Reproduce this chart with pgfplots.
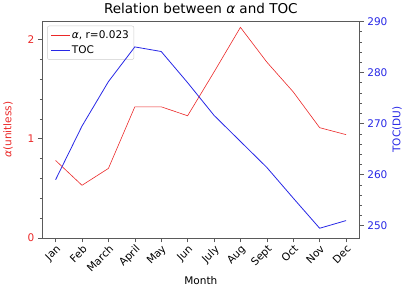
\documentclass[border=0pt]{standalone}
\usepackage{pgfplots}
\pgfplotsset{compat=1.18}
\usepackage{fontspec}
\setmainfont{DejaVu Sans}
\definecolor{mred}{RGB}{235,40,40}
\definecolor{mblue}{RGB}{40,40,230}
\definecolor{spine}{RGB}{90,90,90}
\begin{document}
\begin{tikzpicture}
\pgfplotsset{every axis/.append style={
  width=316pt, height=216pt, scale only axis,
  xmin=-0.5, xmax=11.5,
  tick align=outside,
  /pgf/number format/assume math mode=true,
  tick label style={font=\fontsize{10.5}{12}\selectfont},
  label style={font=\fontsize{10.5}{12}\selectfont},
  axis line style={spine},
  major tick length=4.5pt, minor tick length=2.5pt,
  every tick/.style={spine},
}}
\begin{axis}[
  ymin=0, ymax=2.18,
  xtick={0,...,11},
  xticklabels={Jan,Feb,March,April,May,Jun,July,Aug,Sept,Oct,Nov,Dec},
  xticklabel style={rotate=45, anchor=north east, inner sep=1pt},
  xtick pos=bottom,
  ytick={0,1,2},
  minor ytick={0.2,0.4,0.6,0.8,1.2,1.4,1.6,1.8,2.0},
  ytick pos=left,
  yticklabel style={mred},
  ylabel={\textcolor{mred}{\itshape α\upshape(unitless)}},
  ylabel style={yshift=8pt},
  xlabel={Month},
  xlabel style={yshift=1pt},
  title={Relation between {\itshape α} and TOC},
  title style={font=\fontsize{13.5}{15}\selectfont, yshift=-2pt},
  legend style={font=\fontsize{10.5}{12}\selectfont, draw=gray!40, fill=white, rounded corners=2pt,
    at={(0.015,0.98)}, anchor=north west, row sep=1pt, inner sep=3pt},
  legend cell align=left,
  legend image post style={xscale=1.1},
]
\addplot[mred, line width=0.6pt] coordinates {
(0,0.78) (1,0.53) (2,0.70) (3,1.32) (4,1.32) (5,1.23)
(6,1.67) (7,2.12) (8,1.77) (9,1.47) (10,1.11) (11,1.04)};
\addlegendentry{{\itshape α}, r=0.023}
\addlegendimage{mblue, line width=0.8pt}
\addlegendentry{TOC}
\end{axis}
\begin{axis}[
  ymin=247.6, ymax=290,
  axis x line=none,
  axis y line*=right,
  ytick={250,260,270,280,290},
  minor ytick={252,254,256,258,262,264,266,268,272,274,276,278,282,284,286,288},
  yticklabel style={mblue},
  ylabel={\textcolor{mblue}{TOC(DU)}},
  ylabel style={yshift=2pt},
]
\addplot[mblue, line width=0.8pt] coordinates {
(0,259.0) (1,269.5) (2,278.2) (3,285.0) (4,284.1) (5,278.0)
(6,271.6) (7,266.5) (8,261.4) (9,255.4) (10,249.5) (11,251.0)};
\end{axis}
\end{tikzpicture}
\end{document}
